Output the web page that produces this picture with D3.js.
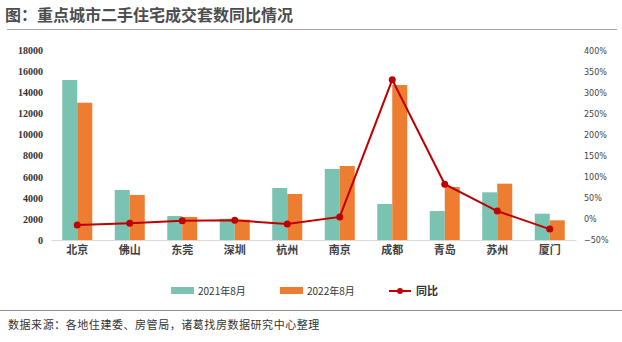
<!DOCTYPE html>
<html>
<head>
<meta charset="utf-8">
<script src="https://cdn.jsdelivr.net/npm/d3@7"></script>
<style>
  body { margin: 0; background: #fff; }
  svg { display: block; }
</style>
</head>
<body>
<div class="container"></div>
<script>
// Data
const cities = ['北京', '佛山', '东莞', '深圳', '杭州', '南京', '成都', '青岛', '苏州', '厦门'];
const deals2021 = [15200, 4750, 2280, 2020, 4940, 6750, 3420, 2750, 4530, 2500];
const deals2022 = [13040, 4280, 2190, 1930, 4370, 7030, 14720, 5030, 5350, 1870];
const yoy = [-14, -10, -4, -3, -12, 5, 332, 83, 19, -24];
const leftTicks = [0, 2000, 4000, 6000, 8000, 10000, 12000, 14000, 16000, 18000];
const rightTicks = [-50, 0, 50, 100, 150, 200, 250, 300, 350, 400];
const seriesNames = ['2021年8月', '2022年8月', '同比'];

const width = 622;
const height = 342;
const colors = { teal: '#7ac2b1', orange: '#ed7d31', red: '#c00000' };
const cjk = '"Noto Sans CJK SC", "Noto Sans", sans-serif';

const svg = d3
  .select('.container')
  .append('svg')
  .attr('width', width)
  .attr('height', height);

// Title
svg
  .append('text')
  .attr('x', 5)
  .attr('y', 21)
  .style('font-family', cjk)
  .style('font-weight', 'bold')
  .style('font-size', '16px')
  .attr('fill', '#4d4d4d')
  .text('图：重点城市二手住宅成交套数同比情况');

svg.append('line')
  .attr('x1', 7).attr('x2', 617)
  .attr('y1', 29.5).attr('y2', 29.5)
  .attr('stroke', '#a6a6a6').attr('stroke-width', 1.2);

// Scales
const x = d3.scaleBand().domain(cities).range([51, 576]);
const y = d3.scaleLinear().domain([0, 18000]).range([240, 50.5]);
const y2 = d3.scaleLinear().domain([-50, 400]).range([240, 51.3]);
const barW = 15;

// Left axis
const leftAxis = d3.axisLeft(y).tickValues(leftTicks).tickSize(0).tickPadding(0)
  .tickFormat(d3.format('d'));
svg.append('g')
  .attr('transform', 'translate(43,0)')
  .call(leftAxis)
  .call((g) => g.select('.domain').remove())
  .call((g) => g.attr('font-family', null))
  .selectAll('text')
  .attr('font-family', '"Liberation Serif", "DejaVu Serif", serif')
  .attr('font-weight', 'bold')
  .attr('font-size', '10px')
  .attr('fill', '#333');

// Right axis
const rightAxis = d3.axisRight(y2).tickValues(rightTicks).tickSize(0).tickPadding(0)
  .tickFormat((d) => (d < 0 ? '\u2212' + Math.abs(d) : d) + '%');
svg.append('g')
  .attr('transform', 'translate(584,0)')
  .call(rightAxis)
  .call((g) => g.select('.domain').remove())
  .selectAll('text')
  .style('font-family', '"DejaVu Sans", sans-serif')
  .style('font-size', '8px')
  .attr('fill', '#444');

// Bars
svg.append('g')
  .selectAll('rect')
  .data(deals2021)
  .enter()
  .append('rect')
  .attr('x', (d, i) => x(cities[i]) + x.bandwidth() / 2 - barW)
  .attr('y', (d) => y(d))
  .attr('width', barW)
  .attr('height', (d) => y(0) - y(d))
  .attr('fill', colors.teal);

svg.append('g')
  .selectAll('rect')
  .data(deals2022)
  .enter()
  .append('rect')
  .attr('x', (d, i) => x(cities[i]) + x.bandwidth() / 2)
  .attr('y', (d) => y(d))
  .attr('width', barW)
  .attr('height', (d) => y(0) - y(d))
  .attr('fill', colors.orange);

// Category axis
const bottomAxis = d3.axisBottom(x).tickSize(0).tickPadding(6);
svg.append('g')
  .attr('transform', `translate(0,${y(0)})`)
  .call(bottomAxis)
  .call((g) => g.select('.domain').attr('stroke', '#d9d9d9').attr('stroke-width', 1.2))
  .selectAll('text')
  .style('font-family', cjk)
  .style('font-weight', 'bold')
  .style('font-size', '11px')
  .attr('fill', '#404040');

// YoY line
const line = d3.line()
  .x((d, i) => x(cities[i]) + x.bandwidth() / 2)
  .y((d) => y2(d));

svg.append('path')
  .datum(yoy)
  .attr('d', line)
  .attr('fill', 'none')
  .attr('stroke', colors.red)
  .attr('stroke-width', 2);

svg.append('g')
  .selectAll('circle')
  .data(yoy)
  .enter()
  .append('circle')
  .attr('cx', (d, i) => x(cities[i]) + x.bandwidth() / 2)
  .attr('cy', (d) => y2(d))
  .attr('r', 3.5)
  .attr('fill', colors.red);

// Legend
const legend = svg.append('g').attr('id', 'legend');
const legendY = 291;
legend.append('rect').attr('x', 171).attr('y', legendY - 4).attr('width', 23).attr('height', 7).attr('fill', colors.teal);
legend.append('rect').attr('x', 280).attr('y', legendY - 4).attr('width', 23).attr('height', 7).attr('fill', colors.orange);
legend.append('line').attr('x1', 389).attr('x2', 411).attr('y1', legendY).attr('y2', legendY)
  .attr('stroke', colors.red).attr('stroke-width', 2);
legend.append('circle').attr('cx', 400).attr('cy', legendY).attr('r', 3).attr('fill', colors.red);

legend.selectAll('text')
  .data(seriesNames)
  .enter()
  .append('text')
  .attr('x', (d, i) => [198, 307, 416][i])
  .attr('y', legendY + 4)
  .style('font-family', cjk)
  .style('font-size', (d, i) => (i === 2 ? '11px' : '10px'))
  .style('font-weight', (d, i) => (i === 2 ? 'bold' : 'normal'))
  .attr('fill', '#333')
  .text((d) => d);

// Footer
svg.append('line')
  .attr('x1', 0).attr('x2', 622)
  .attr('y1', 310.5).attr('y2', 310.5)
  .attr('stroke', '#8c8c8c').attr('stroke-width', 1);

svg.append('text')
  .attr('x', 8)
  .attr('y', 329)
  .style('font-family', cjk)
  .style('font-size', '11px')
  .style('letter-spacing', '0.55px')
  .attr('fill', '#333')
  .text('数据来源：各地住建委、房管局，诸葛找房数据研究中心整理');
</script>
</body>
</html>
